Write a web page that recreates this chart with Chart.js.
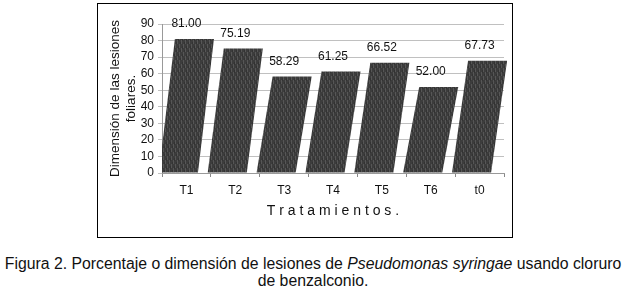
<!DOCTYPE html>
<html>
<head>
<meta charset="utf-8">
<script src="https://cdn.jsdelivr.net/npm/chart.js@4"></script>
<style>
  html, body { margin: 0; padding: 0; background: #fff; width: 626px; height: 290px; overflow: hidden; }
  #frame { position: absolute; left: 97px; top: 3px; width: 414px; height: 233px; border: 1.5px solid #000; }
  #frame canvas { display: block; }
  #caption { position: absolute; left: 0; top: 255px; width: 626px; text-align: center;
             font-family: "Liberation Sans", Arial, sans-serif; font-size: 15.8px; line-height: 17px; color: #111; }
</style>
</head>
<body>
<div id="frame"><canvas id="c" width="414" height="233"></canvas></div>
<div id="caption">Figura 2. Porcentaje o dimensión de lesiones de <i>Pseudomonas syringae</i> usando cloruro<br>de benzalconio.</div>
<script>
const categories = ['T1', 'T2', 'T3', 'T4', 'T5', 'T6', 't0'];
const values = [81.00, 75.19, 58.29, 61.25, 66.52, 52.00, 67.73];
const valueLabels = ['81.00', '75.19', '58.29', '61.25', '66.52', '52.00', '67.73'];
const yTicks = [0, 10, 20, 30, 40, 50, 60, 70, 80, 90];
const yTitle = ['Dimensión de las lesiones', 'foliares.'];
const xTitle = 'T r a t a m i e n t o s .';

const FONT = '"Liberation Sans", Arial, sans-serif';

function makePattern(ctx) {
  const p = document.createElement('canvas');
  p.width = 4; p.height = 8;
  const g = p.getContext('2d');
  g.fillStyle = '#3c3c3c';
  g.fillRect(0, 0, 4, 8);
  g.fillStyle = '#565656';
  g.fillRect(1, 0, 1, 4);
  g.fillRect(3, 4, 1, 4);
  g.fillStyle = '#333333';
  g.fillRect(0, 2, 1, 3);
  g.fillRect(2, 6, 1, 2);
  return ctx.createPattern(p, 'repeat');
}

const slantBars = {
  id: 'slantBars',
  afterDatasetsDraw(chart) {
    const ctx = chart.ctx;
    const area = chart.chartArea;
    const meta = chart.getDatasetMeta(0);
    const pat = makePattern(ctx);
    ctx.save();
    ctx.beginPath();
    ctx.rect(area.left, area.top - 30, area.right - area.left + 20, area.bottom - area.top + 30);
    ctx.clip();
    meta.data.forEach((bar) => {
      const p = bar.getProps(['x', 'y', 'base', 'width'], true);
      const hw = p.width / 2;
      const s = 8;
      ctx.beginPath();
      ctx.moveTo(p.x - hw - s, p.base);
      ctx.lineTo(p.x - hw + s, p.y);
      ctx.lineTo(p.x + hw + s, p.y);
      ctx.lineTo(p.x + hw - s, p.base);
      ctx.closePath();
      ctx.fillStyle = pat;
      ctx.fill();
    });
    ctx.restore();
    // value labels
    ctx.save();
    ctx.font = '12px ' + FONT;
    ctx.fillStyle = '#111';
    ctx.textAlign = 'center';
    ctx.textBaseline = 'middle';
    meta.data.forEach((bar, i) => {
      const p = bar.getProps(['x', 'y'], true);
      ctx.fillText(valueLabels[i], p.x, p.y - 15);
    });
    ctx.restore();
  }
};

new Chart(document.getElementById('c'), {
  type: 'bar',
  data: {
    labels: categories,
    datasets: [{
      data: values,
      backgroundColor: 'rgba(0,0,0,0)',
      borderWidth: 0,
      barPercentage: 0.8,
      categoryPercentage: 1.0
    }]
  },
  options: {
    responsive: false,
    animation: false,
    events: [],
    layout: { padding: { left: 0, right: 8, top: 20, bottom: 0 } },
    plugins: { legend: { display: false }, tooltip: { enabled: false } },
    scales: {
      x: {
        grid: { display: true, drawOnChartArea: false, color: '#888', tickLength: 4, offset: true },
        border: { color: '#999' },
        ticks: { color: '#111', font: { family: FONT, size: 12 }, padding: 6, maxRotation: 0 },
        title: { display: true, text: xTitle, color: '#111', font: { family: FONT, size: 14 }, padding: { top: 0, bottom: 17 } },
        afterFit(scale) { scale.height = 64; }
      },
      y: {
        min: 0, max: 90,
        afterBuildTicks(scale) { scale.ticks = yTicks.map(v => ({ value: v })); },
        grid: { color: '#c0c0c0', tickLength: 4 },
        border: { color: '#999' },
        ticks: { color: '#111', font: { family: FONT, size: 12 }, padding: 4, autoSkip: false, stepSize: 10 },
        title: { display: true, text: yTitle, color: '#111', font: { family: FONT, size: 13.5, lineHeight: 1.2 }, padding: { top: 9, bottom: 0 } },
        afterFit(scale) { scale.width = 64; }
      }
    }
  },
  plugins: [slantBars]
});
</script>
</body>
</html>
